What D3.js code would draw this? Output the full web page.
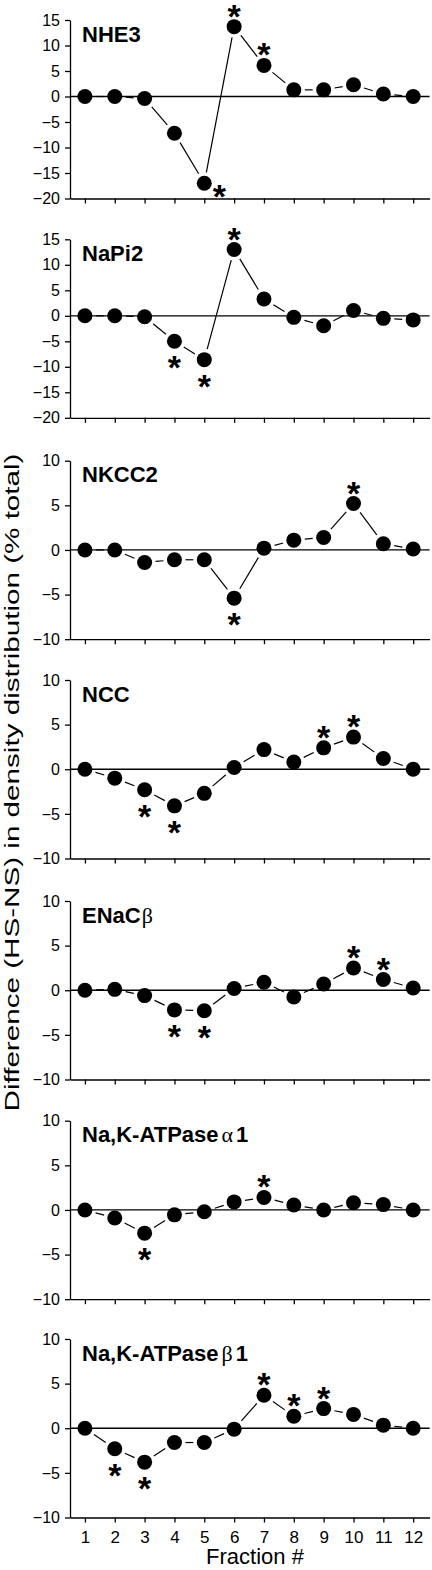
<!DOCTYPE html>
<html><head><meta charset="utf-8">
<script src="https://cdn.jsdelivr.net/npm/d3@7"></script>
<style>body{margin:0;background:#fff} svg{display:block}</style>
</head><body>
<script>
// ---------- data ----------
const fractions = [1,2,3,4,5,6,7,8,9,10,11,12];
const panelNames = ["NHE3","NaPi2","NKCC2","NCC","ENaC","Na,K-ATPase","Na,K-ATPase"];
const panelGreek = ["","","","","β","α","β"];
const panelSuffix = ["","","","","","1","1"];

const nhe3   = [0, 0, -0.4, -7.2, -17.0, 13.7, 6.1, 1.3, 1.3, 2.3, 0.5, 0.0];
const napi2  = [0, 0, -0.2, -5.0, -8.6, 13.0, 3.3, -0.3, -1.95, 1.05, -0.5, -0.8];
const nkcc2  = [0, 0, -1.4, -1.1, -1.1, -5.4, 0.2, 1.1, 1.4, 5.2, 0.7, 0.1];
const ncc    = [0, -1.0, -2.3, -4.1, -2.7, 0.2, 2.2, 0.8, 2.4, 3.6, 1.2, 0.0];
const enacB  = [0, 0.1, -0.6, -2.2, -2.3, 0.2, 0.9, -0.75, 0.7, 2.5, 1.2, 0.25];
const nkaA1  = [0, -0.9, -2.6, -0.55, -0.2, 0.9, 1.4, 0.55, 0.0, 0.8, 0.6, 0.0];
const nkaB1  = [0, -2.3, -3.8, -1.6, -1.6, -0.1, 3.7, 1.35, 2.2, 1.55, 0.35, 0.0];
const seriesValues = [nhe3, napi2, nkcc2, ncc, enacB, nkaA1, nkaB1];

// significant fractions (*) and where the star sits
const sigFractions = [[5,6,7],[4,5,6],[6,10],[3,4,9,10],[4,5,10,11],[3,7],[2,3,7,8,9]];
const sigPlace     = [["right","above","above"],["below","below","above"],["below","above"],
                      ["below","below","above","above"],["below","below","above","above"],
                      ["below","above"],["below","below","above","above","above"]];

const yDomains = [[-20,15],[-20,15],[-10,10],[-10,10],[-10,10],[-10,10],[-10,10]];
const yTicks = [[-20,-15,-10,-5,0,5,10,15],[-20,-15,-10,-5,0,5,10,15],
                [-10,-5,0,5,10],[-10,-5,0,5,10],[-10,-5,0,5,10],[-10,-5,0,5,10],[-10,-5,0,5,10]];
const yTitle = "Difference (HS-NS) in density distribution (% total)";
const xTitle = "Fraction #";

// ---------- layout ----------
const W = 432, H = 1570;
const font = "'Liberation Sans', Arial, Helvetica, sans-serif";
const serif = "'Liberation Serif', 'DejaVu Serif', serif";
const panelTops = [20, 239.3, 460.7, 680, 901, 1120.7, 1339];
const panelH = 178.5;
const axisX = 70;
const r = 7.5, gap = 3.5;

const svg = d3.select("body").append("svg").attr("width", W).attr("height", H)
  .style("font-family", font);

const x = d3.scaleLinear().domain([0.5, 12.55]).range([axisX, 429.6]);

seriesValues.forEach((vals, i) => {
  const top = panelTops[i];
  const y = d3.scaleLinear().domain(yDomains[i]).range([top + panelH, top]);
  const g = svg.append("g");

  // zero reference line
  g.append("line")
    .attr("x1", x.range()[0]).attr("x2", x.range()[1])
    .attr("y1", y(0)).attr("y2", y(0))
    .attr("stroke", "#000").attr("stroke-width", 1.3);

  // y axis
  const ya = g.append("g").attr("transform", `translate(${axisX},0)`)
    .call(d3.axisLeft(y).tickValues(yTicks[i]).tickSize(5).tickSizeOuter(0).tickPadding(5));
  // x axis
  const last = i === seriesValues.length - 1;
  const xa = g.append("g").attr("transform", `translate(0,${y.range()[0]})`)
    .call(d3.axisBottom(x).tickValues(fractions).tickSize(5).tickSizeOuter(0).tickPadding(8)
      .tickFormat(last ? d3.format("d") : () => ""));
  [ya, xa].forEach(a => {
    a.selectAll("path, line").attr("stroke", "#000").attr("stroke-width", 1.3);
    a.selectAll("text").attr("fill", "#000").style("font-family", font);
  });
  ya.selectAll("text").style("font-size", "16px");
  xa.selectAll("text").style("font-size", "17px");

  // connecting segments with gaps around markers
  const pts = vals.map((v, k) => [x(fractions[k]), y(v)]);
  const segs = d3.pairs(pts).map(([a, b]) => {
    const dx = b[0] - a[0], dy = b[1] - a[1], L = Math.hypot(dx, dy), t = r + gap;
    if (L <= 2 * t) return null;
    return [a[0] + dx * t / L, a[1] + dy * t / L, b[0] - dx * t / L, b[1] - dy * t / L];
  }).filter(Boolean);
  g.selectAll("line.seg").data(segs).join("line").attr("class", "seg")
    .attr("x1", d => d[0]).attr("y1", d => d[1]).attr("x2", d => d[2]).attr("y2", d => d[3])
    .attr("stroke", "#000").attr("stroke-width", 1.2);

  // markers
  g.selectAll("circle").data(vals).join("circle")
    .attr("cx", (v, k) => x(fractions[k])).attr("cy", v => y(v)).attr("r", r).attr("fill", "#000");

  // significance stars
  const stars = sigFractions[i].map((f, k) => ({ f, v: vals[f - 1], place: sigPlace[i][k] }));
  g.selectAll("text.star").data(stars).join("text").attr("class", "star")
    .attr("x", d => x(d.f) + (d.place === "right" ? 15 : 0))
    .attr("y", d => y(d.v) + (d.place === "above" ? -18.5 : d.place === "below" ? 18.5 : 5) + 19.5)
    .attr("text-anchor", "middle").style("font-size", "34px").style("font-weight", "bold")
    .text("*");

  // panel title
  const t = g.append("text").attr("x", 82).attr("y", top + 21.5)
    .style("font-size", "22px").style("font-weight", "bold").text(panelNames[i]);
  if (panelGreek[i]) {
    t.append("tspan").attr("dx", panelSuffix[i] ? 3 : 1).style("font-family", serif).style("font-weight", "normal")
      .text(panelGreek[i]);
  }
  if (panelSuffix[i]) t.append("tspan").attr("dx", 3).text(panelSuffix[i]);
});

// axis titles
svg.append("text").attr("transform", "translate(18.5,782.5) rotate(-90)")
  .attr("text-anchor", "middle").style("font-size", "19.5px")
  .attr("textLength", 658).attr("lengthAdjust", "spacingAndGlyphs").text(yTitle);
svg.append("text").attr("x", 255).attr("y", 1564).attr("text-anchor", "middle")
  .style("font-size", "22px").text(xTitle);
</script>
</body></html>
